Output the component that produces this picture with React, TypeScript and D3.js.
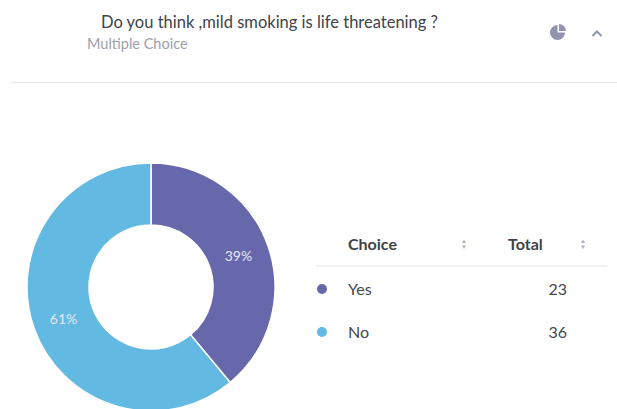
import React from "react";
import * as d3 from "d3";

const choices = ["Yes", "No"];
const totals = [23, 36];
const sliceColors = ["#6768ab", "#62b9e2"];
const percentLabels = ["39%", "61%"];
const headers = ["Choice", "Total"];

const W = 617;
const H = 409;
const cx = 151;
const cy = 287;
const outerR = 124;
const innerR = 62;
const font = "Lato, 'Open Sans', sans-serif";

const SortCaret = ({ x, y }: { x: number; y: number }) => (
  <g fill="#b4b6c0">
    <path d={`M${x - 2.2},${y - 1} L${x + 2.2},${y - 1} L${x},${y - 4.5} Z`} />
    <path d={`M${x - 2.2},${y + 1.5} L${x + 2.2},${y + 1.5} L${x},${y + 5} Z`} />
  </g>
);

export default function App() {
  const pie = d3.pie<number>().sort(null).value((d) => d);
  const arcs = pie(totals);
  const arc = d3.arc<d3.PieArcDatum<number>>().innerRadius(innerR).outerRadius(outerR);
  const labelArc = d3.arc<d3.PieArcDatum<number>>().innerRadius(93).outerRadius(93);

  // Small pie glyph in the header: a large wedge with a detached quarter.
  const iconArc = d3.arc<any>();
  const iconX = 558;
  const iconY = 32;

  const rowY = d3.scalePoint<string>().domain(choices).range([289, 332]);

  return (
    <svg
      width={W}
      height={H}
      viewBox={`0 0 ${W} ${H}`}
      style={{ position: "absolute", left: 0, top: 0, background: "#fff", fontFamily: font }}
    >
      <text x={101} y={28} fontSize={16.5} fill="#3f4248">
        Do you think ,mild smoking is life threatening ?
      </text>
      <text x={87} y={49} fontSize={14.5} fill="#9da0aa">
        Multiple Choice
      </text>

      <path
        transform={`translate(${iconX - 0.5},${iconY + 0.5})`}
        d={
          iconArc({
            innerRadius: 0,
            outerRadius: 7.5,
            startAngle: Math.PI / 2,
            endAngle: Math.PI * 2,
          }) ?? ""
        }
        fill="#9194ae"
      />
      <path
        transform={`translate(${iconX + 1},${iconY - 1})`}
        d={
          iconArc({
            innerRadius: 0,
            outerRadius: 7,
            startAngle: 0,
            endAngle: Math.PI / 2,
          }) ?? ""
        }
        fill="#9194ae"
      />
      <path d="M592.5,36 L597,31.5 L601.5,36" fill="none" stroke="#9194ae" strokeWidth={2} />

      <line x1={12} x2={617} y1={82.5} y2={82.5} stroke="#e4e5e9" strokeWidth={1} />

      <g transform={`translate(${cx},${cy})`}>
        {arcs.map((d, i) => (
          <path key={choices[i]} d={arc(d) ?? ""} fill={sliceColors[i]} stroke="#fff" strokeWidth={1.5} />
        ))}
        {arcs.map((d, i) => {
          const [x, y] = labelArc.centroid(d);
          return (
            <text
              key={percentLabels[i]}
              x={x}
              y={y}
              textAnchor="middle"
              dominantBaseline="central"
              fontSize={14}
              fill="#e6e9f4"
            >
              {percentLabels[i]}
            </text>
          );
        })}
      </g>

      <text x={348} y={250} fontSize={16} fontWeight={700} fill="#3f4248">
        {headers[0]}
      </text>
      <text x={508} y={250} fontSize={16} fontWeight={700} fill="#3f4248">
        {headers[1]}
      </text>
      <SortCaret x={464} y={244} />
      <SortCaret x={583} y={244} />
      <line x1={316} x2={607} y1={266} y2={266} stroke="#e4e5e9" strokeWidth={1} />

      {choices.map((c, i) => (
        <g key={c}>
          <circle cx={322} cy={rowY(c)} r={5} fill={sliceColors[i]} />
          <text x={348} y={(rowY(c) ?? 0) + 5.5} fontSize={16} fill="#44474e">
            {c}
          </text>
          <text x={567} y={(rowY(c) ?? 0) + 5.5} fontSize={16} textAnchor="end" fill="#44474e">
            {totals[i]}
          </text>
        </g>
      ))}
    </svg>
  );
}
